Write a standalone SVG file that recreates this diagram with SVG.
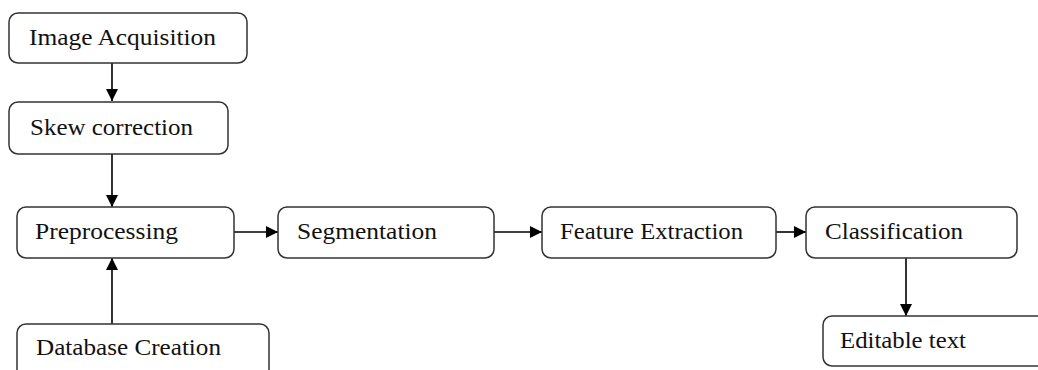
<svg xmlns="http://www.w3.org/2000/svg" width="1038" height="370" viewBox="0 0 1038 370">
<defs>
<marker id="ah" viewBox="0 0 12 12" refX="12" refY="6" markerWidth="12" markerHeight="12" markerUnits="userSpaceOnUse" orient="auto">
<path d="M0,0 L12,6 L0,12 Z" fill="#000"/>
</marker>
<style>
.box{fill:#fff;stroke:#333;stroke-width:1.5}
.t{font-family:"Liberation Serif","Times New Roman",serif;font-size:23px;fill:#111}
.c{stroke:#000;stroke-width:1.6;fill:none;marker-end:url(#ah)}
</style>
</defs>
<rect width="1038" height="370" fill="#fff"/>
<g id="connectors">
<line class="c" x1="112" y1="63" x2="112" y2="101"/>
<line class="c" x1="112" y1="154" x2="112" y2="207"/>
<line class="c" x1="112" y1="324" x2="112" y2="258"/>
<line class="c" x1="234" y1="232" x2="278" y2="232"/>
<line class="c" x1="494" y1="232" x2="542" y2="232"/>
<line class="c" x1="776" y1="232" x2="806" y2="232"/>
<line class="c" x1="906" y1="258" x2="906" y2="316"/>
</g>
<g id="image-acquisition">
<rect class="box" x="9" y="13" width="238" height="50" rx="9"/>
<text class="t" x="29" y="45" textLength="187" lengthAdjust="spacingAndGlyphs">Image Acquisition</text>
</g>
<g id="skew-correction">
<rect class="box" x="9" y="102" width="219" height="52" rx="9"/>
<text class="t" x="30" y="135" textLength="163" lengthAdjust="spacingAndGlyphs">Skew correction</text>
</g>
<g id="preprocessing">
<rect class="box" x="17" y="207" width="217" height="51" rx="9"/>
<text class="t" x="35" y="239" textLength="143" lengthAdjust="spacingAndGlyphs">Preprocessing</text>
</g>
<g id="segmentation">
<rect class="box" x="278" y="207" width="216" height="51" rx="9"/>
<text class="t" x="297" y="239" textLength="140" lengthAdjust="spacingAndGlyphs">Segmentation</text>
</g>
<g id="feature-extraction">
<rect class="box" x="542" y="207" width="234" height="51" rx="9"/>
<text class="t" x="560" y="239" textLength="183" lengthAdjust="spacingAndGlyphs">Feature Extraction</text>
</g>
<g id="classification">
<rect class="box" x="806" y="207" width="211" height="51" rx="9"/>
<text class="t" x="825" y="239" textLength="138" lengthAdjust="spacingAndGlyphs">Classification</text>
</g>
<g id="database-creation">
<rect class="box" x="17" y="324" width="252" height="60" rx="9"/>
<text class="t" x="36" y="355" textLength="185" lengthAdjust="spacingAndGlyphs">Database Creation</text>
</g>
<g id="editable-text">
<rect class="box" x="823" y="316" width="230" height="50" rx="9"/>
<text class="t" x="840" y="348" textLength="126" lengthAdjust="spacingAndGlyphs">Editable text</text>
</g>
</svg>
